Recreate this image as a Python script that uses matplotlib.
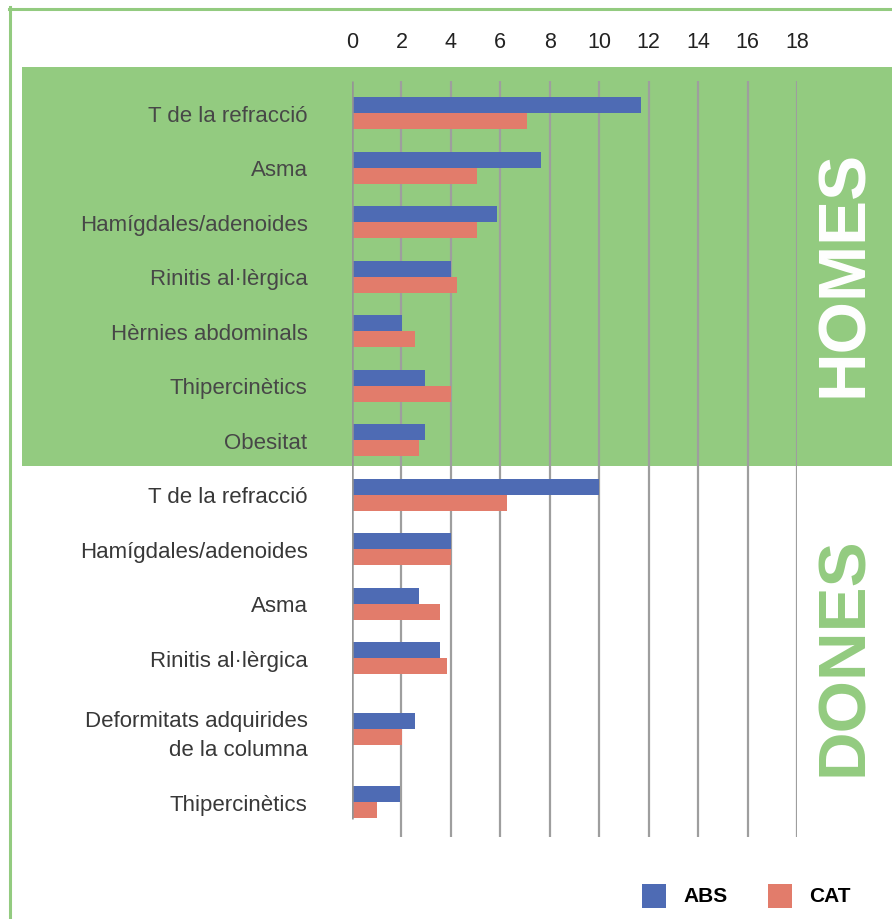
import numpy as np
import matplotlib.pyplot as plt
from matplotlib.patches import Rectangle
from matplotlib.lines import Line2D

# Data
categories = [
    "T de la refracció", "Asma", "Hamígdales/adenoides", "Rinitis al·lèrgica",
    "Hèrnies abdominals", "Thipercinètics", "Obesitat",
    "T de la refracció", "Hamígdales/adenoides", "Asma", "Rinitis al·lèrgica",
    "Deformitats adquirides\nde la columna", "Thipercinètics",
]
abs_vals = [11.7, 7.65, 5.87, 4.0, 2.02, 2.95, 2.95,
            10.0, 4.0, 2.7, 3.56, 2.55, 1.94]
cat_vals = [7.07, 5.04, 5.04, 4.25, 2.54, 4.0, 2.7,
            6.27, 4.0, 3.56, 3.84, 2.02, 1.01]
xticks = list(range(0, 20, 2))
n_homes = 7

plt.rcParams['font.family'] = ['Liberation Sans', 'DejaVu Sans']

GREEN = '#93CB80'
BLUE = '#4E6BB4'
SALMON = '#E27C6B'
GRID = '#9E9E9E'

W, H = 892, 920
fig = plt.figure(figsize=(W / 100, H / 100), dpi=100)

def fx(px):
    return px / W

def fy(py):
    return 1 - py / H

# outer border (left + top)
fig.add_artist(Line2D([fx(10), fx(10)], [fy(8), 0], color=GREEN, lw=2.2,
                      transform=fig.transFigure, zorder=-2))
fig.add_artist(Line2D([fx(9), 1], [fy(9.5), fy(9.5)], color=GREEN, lw=2.2,
                      transform=fig.transFigure, zorder=-2))

# green band behind the HOMES rows
fig.add_artist(Rectangle((fx(22), fy(467)), 1 - fx(22), (467 - 68) / H,
                         transform=fig.transFigure, facecolor=GREEN,
                         edgecolor='none', zorder=-1))

# axes: x 0..18 -> px 352..797, rows spaced 54.5 px, first row at px 114
row_px, row0 = 54.5, 114
top_px, bot_px = 68, 840
ax = fig.add_axes([fx(352), fy(bot_px), (797 - 352) / W, (bot_px - top_px) / H])
ax.set_facecolor('none')
ax.set_zorder(1)
ax.set_xlim(0, 18)
ax.set_ylim((bot_px - row0) / row_px, (top_px - row0) / row_px)

# row positions: extra room for the two-line label
extra = np.array([0] * 11 + [0.3, 0.65])
y = np.arange(len(categories)) + extra

h = 16 / row_px
ax.barh(y - h / 2, abs_vals, height=h, color=BLUE, zorder=3)
ax.barh(y + h / 2, cat_vals, height=h, color=SALMON, zorder=3)

# grid lines
g_top = (82 - row0) / row_px
ax.vlines(xticks[1:], g_top, (838 - row0) / row_px, color=GRID, lw=1.6, zorder=1)
ax.vlines(0, g_top, (820 - row0) / row_px, color='#959595', lw=1.8, zorder=4)

for s in ax.spines.values():
    s.set_visible(False)

ax.xaxis.tick_top()
ax.set_xticks(xticks)
ax.set_xticklabels([str(t) for t in xticks], fontsize=15.5, color='#222222')
ax.tick_params(axis='x', length=0, pad=11)

ax.set_yticks(y)
ax.set_yticklabels(categories, fontsize=16)
for i, lbl in enumerate(ax.get_yticklabels()):
    lbl.set_color('#474747' if i < n_homes else '#383838')
    lbl.set_linespacing(1.5)
ax.tick_params(axis='y', length=0, pad=32)

# section titles
fig.text(fx(845), fy(273), "HOMES", rotation=90, ha='center', va='center',
         fontsize=48.5, fontweight='bold', color='white', zorder=2)
fig.text(fx(845), fy(656), "DONES", rotation=90, ha='center', va='center',
         fontsize=48.5, fontweight='bold', color=GREEN, zorder=2)

# legend
for x0, col, lab in [(642, BLUE, "ABS"), (768, SALMON, "CAT")]:
    fig.add_artist(Rectangle((fx(x0), fy(909)), 24 / W, 24 / H,
                             transform=fig.transFigure, facecolor=col,
                             edgecolor='none'))
    fig.text(fx(x0 + 41), fy(897), lab, ha='left', va='center',
             fontsize=15, fontweight='bold', color='black')

fig.savefig("out.png", dpi=100)
